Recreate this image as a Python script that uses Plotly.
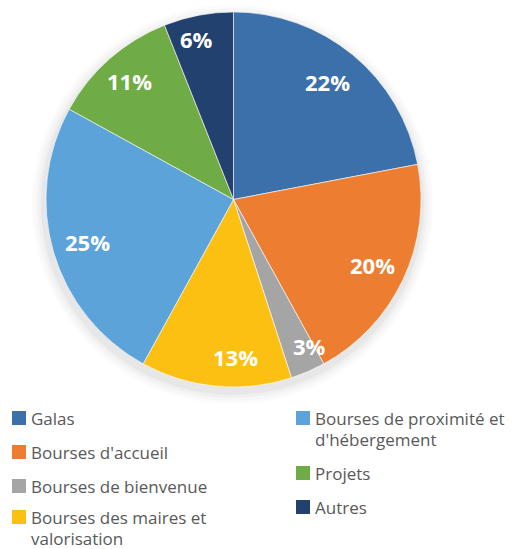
import math
import plotly.graph_objects as go

labels = ["Galas", "Bourses d'accueil", "Bourses de bienvenue",
          "Bourses des maires et valorisation",
          "Bourses de proximité et d'hébergement", "Projets", "Autres"]
legend_lines = [["Galas"], ["Bourses d'accueil"], ["Bourses de bienvenue"],
                ["Bourses des maires et", "valorisation"],
                ["Bourses de proximité et", "d'hébergement"], ["Projets"], ["Autres"]]
values = [22, 20, 3, 13, 25, 11, 6]
colors = ["#3B70AA", "#ED7D31", "#A5A5A5", "#FCC012", "#5BA3D9", "#6FAC46", "#23416F"]

W, H = 516, 549
cx, cy, r = 233.5, 199.5, 187.5
# label placement style (radial fraction, angular nudge in degrees)
label_radius = [0.80, 0.82, 0.88, 0.84, 0.81, 0.84, 0.88]
label_nudge = [-1, 0, -4, -6, 0, 0, -2]

fig = go.Figure()
fig.add_trace(go.Pie(
    labels=labels, values=values, sort=False, direction="clockwise", rotation=0,
    marker=dict(colors=colors, line=dict(color="rgba(255,255,255,0.6)", width=1)),
    textinfo="none",
    domain=dict(x=[(cx - r) / W, (cx + r) / W], y=[1 - (cy + r) / H, 1 - (cy - r) / H]),
    showlegend=False, hoverinfo="label+percent",
))

shapes = []
# soft shadow under the pie
for grow, op in [(12, 0.015), (9, 0.02), (6, 0.025), (3, 0.035)]:
    rr = r + grow
    dy = 5
    shapes.append(dict(type="circle", xref="paper", yref="paper", layer="below",
                       x0=(cx - rr - 2) / W, x1=(cx + rr) / W,
                       y0=1 - (cy + dy + rr) / H, y1=1 - (cy + dy - rr) / H,
                       fillcolor=f"rgba(0,0,0,{op})", line=dict(width=0)))

annotations = []
total = sum(values)
cum = 0
for i, v in enumerate(values):
    mid = (cum + v / 2) / total * 360 + label_nudge[i]
    cum += v
    rad = math.radians(mid)
    d = r * label_radius[i]
    px = cx + d * math.sin(rad)
    py = cy - d * math.cos(rad)
    annotations.append(dict(x=px / W, y=1 - py / H, xref="paper", yref="paper",
                            xanchor="center", yanchor="middle", showarrow=False,
                            text=f"{round(v / total * 100)}%",
                            font=dict(family="Open Sans", size=22, color="white", weight="bold")))

# legend: two columns
col_x = [12, 296]
rows = [(0, 418), (0, 452), (0, 486), (0, 517), (1, 418), (1, 473), (1, 507)]
line_gap = 21
for i, (col, y) in enumerate(rows):
    x = col_x[col]
    shapes.append(dict(type="rect", xref="paper", yref="paper",
                       x0=x / W, x1=(x + 14) / W, y0=1 - (y + 7) / H, y1=1 - (y - 7) / H,
                       fillcolor=colors[i], line=dict(width=0)))
    for k, line in enumerate(legend_lines[i]):
        ly = y + k * line_gap
        annotations.append(dict(x=(x + 18) / W, y=1 - ly / H, xref="paper", yref="paper",
                                xanchor="left", yanchor="middle", showarrow=False, align="left",
                                text=line, borderpad=0,
                                font=dict(family="Open Sans", size=17, color="#595959")))

fig.update_layout(width=W, height=H, margin=dict(l=0, r=0, t=0, b=0),
                  paper_bgcolor="white", plot_bgcolor="white",
                  shapes=shapes, annotations=annotations)
fig.write_html("out.html", config={"displayModeBar": False},
               post_script="document.body.style.margin='0';")
